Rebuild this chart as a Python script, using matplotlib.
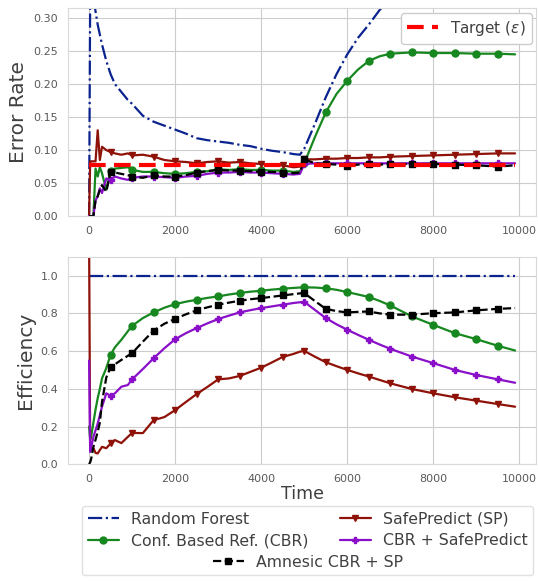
import matplotlib
matplotlib.use("Agg")
import matplotlib.pyplot as plt
import numpy as np
import seaborn as sns
from matplotlib.lines import Line2D

# time grid (denser at the start where the curves are noisy)
time = [0, 25, 50, 100, 150, 200, 250, 300, 400, 500, 600, 750, 900, 1000,
        1250, 1500, 1750, 2000, 2250, 2500, 2750, 3000, 3250, 3500, 3750, 4000,
        4250, 4500, 4750, 4900, 5000, 5250, 5500, 5750, 6000, 6250, 6500, 6750,
        7000, 7500, 8000, 8500, 9000, 9500, 9900]

target_eps = 0.078

# error rate
err_rf = [0.0, 0.33, 0.33, 0.33, 0.31, 0.29, 0.275, 0.26, 0.235, 0.215, 0.20, 0.188,
          0.176, 0.17, 0.152, 0.143, 0.137, 0.131, 0.125, 0.118, 0.115, 0.113, 0.111,
          0.108, 0.106, 0.102, 0.099, 0.097, 0.094, 0.093, 0.102, 0.14, 0.18, 0.215,
          0.245, 0.27, 0.29, 0.312, 0.33, 0.36, 0.385, 0.405, 0.42, 0.435, 0.445]
err_sp = [0.0, 0.083, 0.083, 0.083, 0.083, 0.13, 0.085, 0.105, 0.10, 0.097, 0.095,
          0.093, 0.095, 0.092, 0.093, 0.09, 0.085, 0.083, 0.082, 0.08, 0.082, 0.083,
          0.081, 0.082, 0.08, 0.079, 0.078, 0.077, 0.074, 0.075, 0.086, 0.086, 0.087,
          0.087, 0.088, 0.088, 0.089, 0.089, 0.09, 0.091, 0.092, 0.093, 0.094, 0.095,
          0.095]
err_cbr = [0.0, 0.0, 0.0, 0.0, 0.072, 0.06, 0.074, 0.065, 0.04, 0.069, 0.072, 0.073,
           0.074, 0.07, 0.067, 0.067, 0.065, 0.064, 0.065, 0.067, 0.068, 0.071, 0.07,
           0.071, 0.07, 0.07, 0.069, 0.069, 0.067, 0.068, 0.08, 0.12, 0.157, 0.185,
           0.205, 0.222, 0.235, 0.242, 0.246, 0.248, 0.247, 0.247, 0.246, 0.246, 0.245]
err_cbr_sp = [0.0, 0.0, 0.0, 0.0, 0.024, 0.03, 0.042, 0.035, 0.057, 0.055, 0.06,
              0.057, 0.055, 0.058, 0.06, 0.06, 0.059, 0.058, 0.06, 0.061, 0.064,
              0.066, 0.066, 0.067, 0.066, 0.066, 0.065, 0.064, 0.063, 0.064, 0.079,
              0.08, 0.08, 0.08, 0.08, 0.08, 0.08, 0.08, 0.08, 0.08, 0.08, 0.08, 0.08,
              0.08, 0.08]
err_amn = [0.0, 0.0, 0.0, 0.0, 0.024, 0.03, 0.04, 0.047, 0.037, 0.067, 0.066, 0.064,
           0.062, 0.06, 0.058, 0.062, 0.06, 0.06, 0.062, 0.066, 0.068, 0.07, 0.069,
           0.069, 0.068, 0.067, 0.067, 0.066, 0.065, 0.066, 0.086, 0.08, 0.079, 0.078,
           0.076, 0.078, 0.079, 0.078, 0.079, 0.079, 0.079, 0.078, 0.077, 0.075, 0.077]

# efficiency
eff_rf = [1.0] * len(time)
eff_sp = [1.2, 0.08, 0.076, 0.085, 0.06, 0.057, 0.075, 0.092, 0.085, 0.11, 0.128,
          0.112, 0.145, 0.166, 0.165, 0.234, 0.25, 0.287, 0.33, 0.372, 0.41, 0.45,
          0.455, 0.468, 0.49, 0.512, 0.54, 0.569, 0.585, 0.597, 0.601, 0.57, 0.541,
          0.52, 0.50, 0.482, 0.465, 0.447, 0.429, 0.399, 0.376, 0.355, 0.337, 0.319,
          0.305]
eff_cbr = [0.2, 0.13, 0.15, 0.22, 0.29, 0.35, 0.40, 0.455, 0.51, 0.58, 0.62, 0.66,
           0.705, 0.734, 0.775, 0.805, 0.83, 0.849, 0.862, 0.872, 0.882, 0.89, 0.9,
           0.908, 0.915, 0.92, 0.926, 0.931, 0.935, 0.937, 0.938, 0.937, 0.933, 0.925,
           0.913, 0.9, 0.887, 0.866, 0.842, 0.784, 0.739, 0.695, 0.663, 0.628, 0.603]
eff_cbr_sp = [0.55, 0.065, 0.09, 0.145, 0.18, 0.216, 0.26, 0.305, 0.376, 0.363,
              0.376, 0.411, 0.42, 0.45, 0.505, 0.562, 0.615, 0.663, 0.695, 0.722,
              0.747, 0.77, 0.788, 0.805, 0.817, 0.828, 0.837, 0.846, 0.855, 0.859,
              0.861, 0.818, 0.775, 0.742, 0.713, 0.686, 0.66, 0.635, 0.612, 0.571,
              0.536, 0.50, 0.473, 0.45, 0.432]
eff_amn = [0.0, 0.01, 0.03, 0.092, 0.13, 0.172, 0.22, 0.33, 0.46, 0.514, 0.53, 0.553,
           0.575, 0.589, 0.65, 0.709, 0.745, 0.771, 0.795, 0.816, 0.832, 0.846, 0.857,
           0.867, 0.875, 0.881, 0.888, 0.895, 0.902, 0.906, 0.908, 0.865, 0.824, 0.812,
           0.805, 0.808, 0.81, 0.80, 0.793, 0.793, 0.801, 0.805, 0.816, 0.824, 0.828]

labels = ["Random Forest", "Conf. Based Ref. (CBR)", "Amnesic CBR + SP",
          "SafePredict (SP)", "CBR + SafePredict"]

sns.set_style("whitegrid")
plt.rcParams["font.family"] = ["DejaVu Sans"]
plt.rcParams["text.color"] = "0.25"
plt.rcParams["axes.labelcolor"] = "0.25"
plt.rcParams["xtick.color"] = "0.35"
plt.rcParams["ytick.color"] = "0.35"

C_RF = "#0b238f"
C_CBR = "#17871f"
C_SP = "#8e1208"
C_CSP = "#8a0fc9"
C_AMN = "black"

t = np.array(time)
marks = list(np.where((t % 500 == 0) & (t > 0))[0])

fig = plt.figure(figsize=(5.38, 5.81), dpi=100)
ax1 = fig.add_axes([0.126, 0.628, 0.871, 0.358])
ax2 = fig.add_axes([0.126, 0.201, 0.871, 0.357])


def draw(ax, rf, cbr, sp, csp, amn):
    h_rf, = ax.plot(t, rf, color=C_RF, lw=1.6, ls="-.")
    h_cbr, = ax.plot(t, cbr, color=C_CBR, lw=1.6, marker="o", ms=5, markevery=marks)
    h_sp, = ax.plot(t, sp, color=C_SP, lw=1.6, marker="v", ms=5, markevery=marks)
    h_csp, = ax.plot(t, csp, color=C_CSP, lw=1.6, marker="P", ms=5, markevery=marks)
    h_amn, = ax.plot(t, amn, color=C_AMN, lw=1.6, ls="--", marker="s", ms=5,
                     markevery=marks)
    return h_rf, h_cbr, h_sp, h_csp, h_amn


draw(ax1, err_rf, err_cbr, err_sp, err_cbr_sp, err_amn)
h_tgt, = ax1.plot(t, [target_eps] * len(t), color="red", lw=3, ls="--", dashes=(4, 2))
handles = draw(ax2, eff_rf, eff_cbr, eff_sp, eff_cbr_sp, eff_amn)

ax1.set_ylim(0, 0.315)
ax1.set_yticks(np.arange(0, 0.31, 0.05))
ax1.yaxis.set_major_formatter(matplotlib.ticker.FormatStrFormatter("%.2f"))
ax1.set_ylabel("Error Rate", fontsize=14.5)
ax1.legend([h_tgt], [r"Target ($\epsilon$)"], loc="upper right", fontsize=11,
           framealpha=1, borderaxespad=0.3)

ax2.set_ylim(0, 1.1)
ax2.set_yticks(np.arange(0, 1.01, 0.2))
ax2.set_ylabel("Efficiency", fontsize=14.5)
ax2.set_xlabel("Time", fontsize=12.5, labelpad=1)

for ax in (ax1, ax2):
    ax.set_xticks(range(0, 10001, 2000))
    ax.tick_params(labelsize=8)
    for s in ax.spines.values():
        s.set_color("0.85")

h_rf, h_cbr, h_sp, h_csp, h_amn = handles
blank = Line2D([], [], color="none")
leg = fig.legend([h_rf, h_cbr, blank, h_sp, h_csp, blank],
                 [labels[0], labels[1], " ", labels[3], labels[4], " "],
                 ncol=2, loc="upper center", bbox_to_anchor=(0.572, 0.129),
                 borderaxespad=0, fontsize=11.3, frameon=True, columnspacing=2.0,
                 handletextpad=0.75, labelspacing=0.42, borderpad=0.35)
leg.get_frame().set_edgecolor("0.85")

fig.canvas.draw()
bb = leg.get_texts()[2].get_window_extent()
y_row = fig.transFigure.inverted().transform((0, (bb.y0 + bb.y1) / 2))[1]
fig.legend([h_amn], [labels[2]], loc="center", bbox_to_anchor=(0.572, y_row),
           fontsize=11.3, frameon=False, borderpad=0, handletextpad=0.75)

fig.savefig("out.png", dpi=100)
